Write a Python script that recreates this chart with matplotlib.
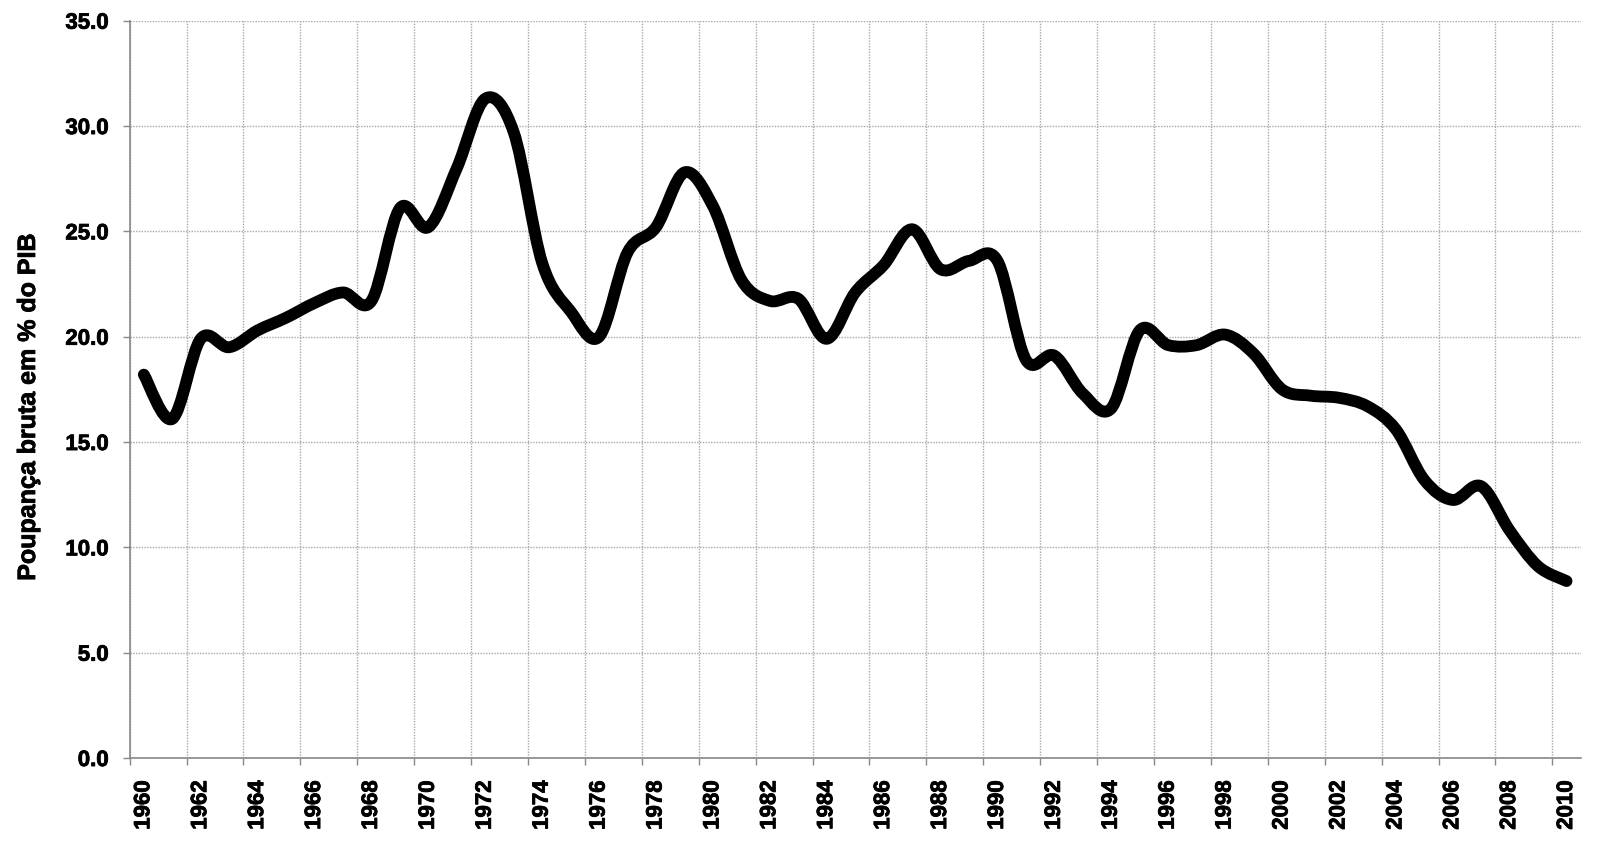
import numpy as np
import matplotlib.pyplot as plt
import matplotlib.patheffects as pe
from matplotlib.path import Path
from matplotlib.patches import PathPatch

plt.rcParams['font.family'] = ['Liberation Sans', 'DejaVu Sans']

years = list(range(1960, 2011))
savings = [18.2, 16.1, 19.9, 19.5, 20.3, 20.9, 21.6, 22.1, 21.7, 26.1,
           25.2, 28.0, 31.3, 29.7, 23.5, 21.2, 20.0, 24.0, 25.2, 27.8,
           26.2, 22.7, 21.7, 21.8, 19.9, 22.1, 23.4, 25.1, 23.2, 23.6,
           23.6, 18.9, 19.1, 17.3, 16.6, 20.3, 19.6, 19.6, 20.1, 19.2,
           17.5, 17.2, 17.1, 16.7, 15.6, 13.2, 12.25, 12.9, 10.8, 9.1, 8.4]
yticks = [0, 5, 10, 15, 20, 25, 30, 35]
ylabel = "Poupança bruta em % do PIB"

x = np.arange(len(years), dtype=float)
y = np.array(savings)

# smoothed line like Excel: cubic bezier segments through each point
pts = np.column_stack([x, y])
padded = np.vstack([pts[0], pts, pts[-1]])
verts = [tuple(pts[0])]
codes = [Path.MOVETO]
for i in range(len(pts) - 1):
    p0, p1, p2, p3 = padded[i], padded[i + 1], padded[i + 2], padded[i + 3]
    c1 = p1 + (p2 - p0) / 6
    c2 = p2 - (p3 - p1) / 6
    verts += [tuple(c1), tuple(c2), tuple(p2)]
    codes += [Path.CURVE4] * 3

fig = plt.figure(figsize=(16, 8.52), dpi=100)
ax = fig.add_axes([0.081, 0.1103, 0.907, 0.8654])

patch = PathPatch(Path(verts, codes), facecolor='none', edgecolor='black',
                  lw=8.5, capstyle='round', joinstyle='round', zorder=3)
ax.add_patch(patch)

ax.set_xlim(-0.5, len(years) - 0.5)
ax.set_ylim(0, 35)

heavy = [pe.withStroke(linewidth=0.6, foreground='black')]

ax.set_yticks(yticks)
ax.set_yticklabels([f"{v:.1f}" for v in yticks], fontsize=16, fontweight='bold')
ax.tick_params(axis='y', length=5, width=1, color='#888888', pad=10)

ax.set_xticks(np.arange(-0.5, len(years), 2))
ax.set_xticklabels([])
ax.set_xticks(x[::2], minor=True)
ax.set_xticklabels([str(yr) for yr in years[::2]], minor=True, rotation=90,
                   fontsize=16, fontweight='bold')
ax.tick_params(axis='x', which='major', length=5, width=1, color='#888888')
ax.tick_params(axis='x', which='minor', length=0, pad=16)

for lab in ax.get_yticklabels() + ax.get_xticklabels(minor=True):
    lab.set_path_effects(heavy)

ax.grid(True, which='major', color='#a8a8a8', ls=(0, (1, 1)), lw=1)
ax.set_axisbelow(True)

for s in ['top', 'right']:
    ax.spines[s].set_visible(False)
for s in ['left', 'bottom']:
    ax.spines[s].set_color('#888888')
    ax.spines[s].set_linewidth(1.2)

fig.text(28 / 1600, 1 - 407 / 852, ylabel, rotation=90, ha='center',
         va='center', fontsize=18, fontweight='bold', path_effects=heavy)

fig.savefig('out.png', dpi=100)
